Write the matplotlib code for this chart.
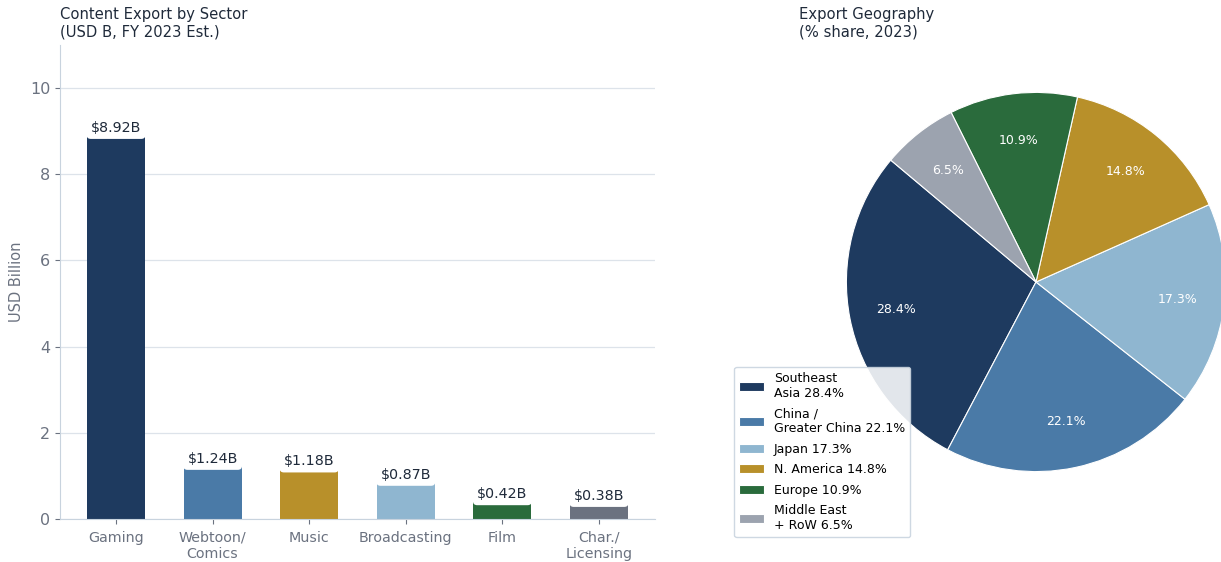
import matplotlib.pyplot as plt

# sector exports, USD billions
sectors = ["Gaming", "Webtoon/\nComics", "Music", "Broadcasting", "Film", "Char./\nLicensing"]
export_usd_b = [8.92, 1.24, 1.18, 0.87, 0.42, 0.38]
bar_colors = ["#1e3a5f", "#4a7aa7", "#b8902a", "#8fb6d0", "#2a6b3c", "#6b7280"]

# export destinations, % share
regions = ["Southeast\nAsia", "China /\nGreater China", "Japan", "N. America", "Europe",
           "Middle East\n+ RoW"]
region_share = [28.4, 22.1, 17.3, 14.8, 10.9, 6.5]
pie_colors = ["#1e3a5f", "#4a7aa7", "#8fb6d0", "#b8902a", "#2a6b3c", "#9ca3af"]

TEXT_DARK = "#1f2a3a"
TEXT_GRAY = "#6b7280"
AXIS_LINE = "#c8d3de"
GRID = "#dde3ea"

W, H = 1221, 562
fig = plt.figure(figsize=(W / 100, H / 100), dpi=100)

# ---- bar chart ----
ax = fig.add_axes([60 / W, (H - 519) / H, 595 / W, 474 / H])
x = list(range(len(sectors)))
ax.bar(x, export_usd_b, width=0.6, color=bar_colors, zorder=2)
for xi, v in zip(x, export_usd_b):
    ax.annotate(f"${v:.2f}B", (xi, v), xytext=(0, 0), textcoords="offset points",
                ha="center", va="bottom", fontsize=10.3, color=TEXT_DARK, zorder=3,
                bbox=dict(boxstyle="round,pad=0.3", fc="white", ec="none"))
ax.set_ylim(0, 11)
ax.set_xticks(x)
ax.set_xticklabels(sectors, fontsize=10.3, color=TEXT_GRAY)
ax.tick_params(axis="y", labelsize=11.5, labelcolor=TEXT_GRAY, color=TEXT_GRAY)
ax.tick_params(axis="x", color=TEXT_GRAY, pad=5)
ax.set_ylabel("USD Billion", fontsize=10.5, color=TEXT_GRAY)
ax.yaxis.grid(True, color=GRID, linewidth=0.9, zorder=0)
ax.set_axisbelow(True)
for side in ("top", "right"):
    ax.spines[side].set_visible(False)
for side in ("left", "bottom"):
    ax.spines[side].set_color(AXIS_LINE)
ax.set_title("Content Export by Sector\n(USD B, FY 2023 Est.)", loc="left",
             fontsize=10.6, color=TEXT_DARK, pad=6)

# ---- pie chart ----
pax = fig.add_axes([799 / W, (H - 519) / H, 474 / W, 474 / H])
wedges, _, autotexts = pax.pie(
    region_share, colors=pie_colors, startangle=140, autopct="%.1f%%",
    pctdistance=0.75, wedgeprops=dict(edgecolor="white", linewidth=0.8),
    textprops=dict(color="white", fontsize=9))
pax.set_xlim(-1.25, 1.25)
pax.set_ylim(-1.25, 1.25)
pax.set_title("Export Geography\n(% share, 2023)", loc="left",
              fontsize=10.6, color=TEXT_DARK, pad=6)
leg = pax.legend(wedges, [f"{r} {s}%" for r, s in zip(regions, region_share)],
                 loc="lower left", bbox_to_anchor=(-0.137, -0.038), borderaxespad=0,
                 fontsize=9, labelspacing=0.6, framealpha=0.88, fancybox=True)
leg.get_frame().set_edgecolor(AXIS_LINE)

fig.savefig("out.png", dpi=100)
